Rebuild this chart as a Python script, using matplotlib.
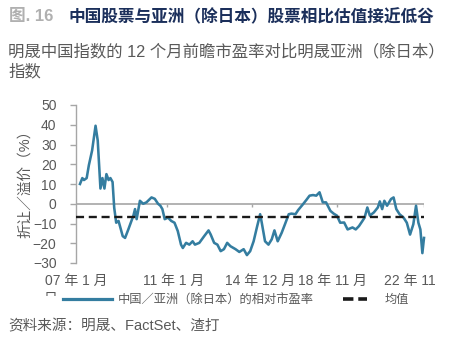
import matplotlib
matplotlib.use("Agg")
import matplotlib.pyplot as plt
from matplotlib.lines import Line2D
from matplotlib.transforms import Bbox

plt.rcParams['font.family'] = ['Liberation Sans', 'Noto Sans CJK SC', 'DejaVu Sans']
plt.rcParams['lines.scale_dashes'] = False

# ---- data ----
# months elapsed since Jan 2007
months = [0, 1.3, 2.2, 3.7, 4.9, 6.7, 8.6, 9.8, 11.3, 12.4, 13.5, 14.6, 15.8, 16.8, 18.0,
          18.9, 20.0, 21.3, 23.6, 24.9, 26.7, 29.5, 30.4, 31.3, 33.1, 34.9, 36.7, 39.5,
          41.3, 43.1, 44.4, 45.5, 46.8, 48.6, 50.4, 52.2, 54.0, 55.8, 56.8, 58.6, 60.4,
          62.2, 63.5, 65.9, 68.6, 71.0, 72.2, 74.1, 75.9, 77.7, 79.5, 81.3, 83.1, 85.9,
          88.0, 90.4, 92.2, 94.0, 95.9, 97.7, 99.5, 100.4, 102.2, 104.1, 105.9, 107.4,
          109.2, 111.4, 113.2, 115.3, 116.8, 119.0, 120.5, 123.2, 125.0, 126.8, 128.7,
          130.5, 132.3, 134.1, 135.9, 138.3, 140.1, 141.9, 143.7, 145.9, 147.8, 150.5,
          152.3, 154.1, 156.0, 157.2, 158.7, 160.1, 162.3, 164.5, 165.6, 166.9, 168.1,
          169.6, 171.8, 173.2, 174.7, 176.5, 178.7, 180.5, 182.3, 184.1, 185.6, 186.9,
          188.0, 189.1, 190.0]
rel_pe = [10, 13, 12, 13, 19.5, 27, 39.5, 32, 7.7, 13, 7.7, 15, 12, 13, 11,
          -2, -9.6, -8.7, -16.4, -17.3, -13, -6, -2.7, -7.8, 1.5, 0, 0.7, 3.2,
          2.5, 0, -1, -2.7, -7.8, -7, -8.7, -9.6, -13.8, -20.7, -22.4, -19.8, -20.7,
          -19, -20.7, -19.8, -16.4, -13.5, -15.6, -19.8, -20.7, -24, -23, -19.8, -21.5, -23,
          -24.4, -23, -26, -24, -19, -12, -5.3, -9.6, -19, -20.7, -18, -13.5,
          -19, -14.7, -10.4, -5.3, -5, -5.3, -3.2, -0.2, 1.9, 4.1, 4.4,
          4.1, 5.8, 0.7, 0.7, -3.6, -5, -6, -9.6, -9.5, -13, -12,
          -13, -11.3, -8.7, -7, -1.9, -6, -4.4, -1.9, 1.2, -2.7, 1.5,
          -1, 2.4, 3.2, -2.7, -5.3, -7, -9.6, -15.6, -10.4, -1, -9.6,
          -13, -25, -17.3]
mean_value = -6.8

tick_months = [0, 48, 95, 142, 190]
tick_labels = ['07 年 1 月', '11 年 1 月', '14 年 12 月', '18 年 11 月', '22 年 11']
label_months = [-2.2, 51.5, 99.5, 139.5, 182.0]
yticks = [-30, -20, -10, 0, 10, 20, 30, 40, 50]

title_prefix = '图. 16'
title = '中国股票与亚洲（除日本）股票相比估值接近低谷'
subtitle1 = '明晟中国指数的 12 个月前瞻市盈率对比明晟亚洲（除日本）'
subtitle2 = '指数'
ylabel = '折让／溢价（%）'
series_name = '中国／亚洲（除日本）的相对市盈率'
mean_name = '均值'
source = '资料来源：明晟、FactSet、渣打'

# ---- style ----
W, H = 449, 354
LINE_C = '#347da0'
GRAY = '#595959'
AX_C = '#a6a6a6'

fig = plt.figure(figsize=(W / 100, H / 100), dpi=100)
ax = fig.add_axes([76 / W, 1 - 263 / H, (424 - 76) / W, (263 - 105) / H])

ax.plot(months, rel_pe, color=LINE_C, lw=1.85, zorder=3, solid_joinstyle='round',
        clip_on=False)
mean_line = ax.axhline(mean_value, color='#1a1a1a', lw=1.7, zorder=4)
mean_line.set_dashes((5.8, 3.4))
ax.axhline(0, color=AX_C, lw=1.2, zorder=1)
ax.vlines(tick_months[1:], -1.6, 0, color=AX_C, lw=1.0, zorder=1)

ax.set_xlim(0, 190)
ax.set_ylim(-30, 50)
ax.set_yticks(yticks)
for s in ['top', 'right', 'bottom']:
    ax.spines[s].set_visible(False)
ax.spines['left'].set_color(AX_C)
ax.spines['left'].set_linewidth(1.0)
ax.tick_params(axis='y', direction='out', length=4, width=1, color=AX_C,
               labelcolor=GRAY, labelsize=10, pad=10)
ax.set_xticks(label_months)
ax.set_xticklabels(tick_labels)
ax.tick_params(axis='x', length=0, labelcolor=GRAY, labelsize=10, pad=8)

ax.set_ylabel(ylabel, fontsize=10.5, color=GRAY, va='center')
ax.yaxis.set_label_coords(-0.147, 0.525)

# wrapped remainder of first tick label (partially hidden)
t = fig.text(44 / W, 1 - 299 / H, '日', fontsize=10, color=GRAY, ha='left', va='center')
t.set_clip_on(True)
t.set_clip_box(Bbox.from_extents(0, H - 296, W, H))

# legends
h1 = Line2D([], [], color=LINE_C, lw=2.3)
leg1 = fig.legend([h1], [series_name], loc='center left', bbox_to_anchor=(63 / W, 1 - 300 / H),
                  frameon=False, handlelength=4.0, handletextpad=0.5, borderpad=0,
                  borderaxespad=0, prop={'size': 8.8})
h2 = Line2D([], [], color='#1a1a1a', lw=2.6)
h2.set_dashes((7.5, 3.5))
leg2 = fig.legend([h2], [mean_name], loc='center left', bbox_to_anchor=(343 / W, 1 - 300 / H),
                  frameon=False, handlelength=2.0, handletextpad=1.4, borderpad=0,
                  borderaxespad=0, prop={'size': 8.8})
for lg in (leg1, leg2):
    for tx in lg.get_texts():
        tx.set_color(GRAY)

# titles
fig.text(9 / W, 1 - 17 / H, title_prefix, fontsize=12, weight='bold', color='#b0b0b0', va='center')
fig.text(68 / W, 1 - 17 / H, title, fontsize=12, weight='bold', color='#1b2f5b', va='center')
fig.text(8 / W, 1 - 52 / H, subtitle1, fontsize=11.8, color=GRAY, va='center')
fig.text(8 / W, 1 - 72 / H, subtitle2, fontsize=11.8, color=GRAY, va='center')
fig.text(8 / W, 1 - 326 / H, source, fontsize=10.5, color=GRAY, va='center')

fig.savefig('out.png', dpi=100)
